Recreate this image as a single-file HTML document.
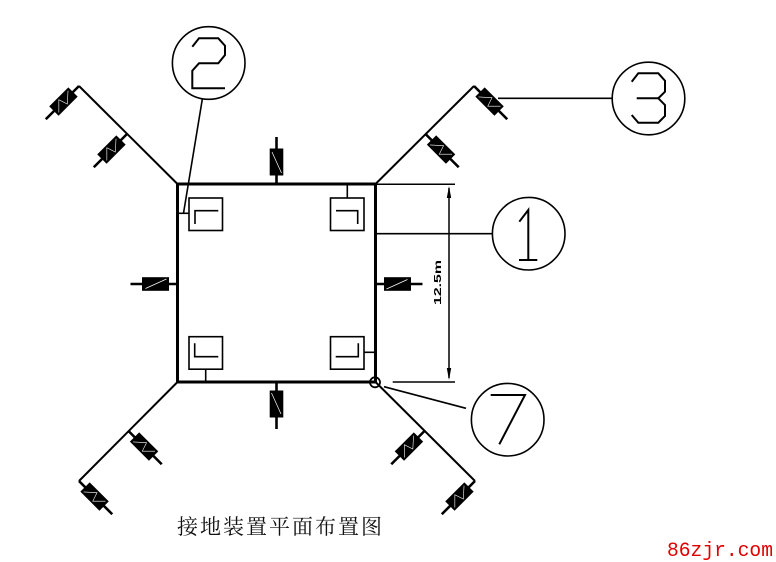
<!DOCTYPE html>
<html>
<head>
<meta charset="utf-8">
<style>
html,body{margin:0;padding:0;background:#fff;}
svg{display:block;}
</style>
</head>
<body>
<svg width="776" height="562" viewBox="0 0 776 562" xmlns="http://www.w3.org/2000/svg">
<defs>
  <g id="rod">
    <line x1="0" y1="0" x2="47" y2="0" stroke="#000" stroke-width="2.6"/>
    <rect x="8.5" y="-6.6" width="27" height="13.2" fill="#000"/>
    <polyline points="11,4.5 21,-4.5 24,4.5 33,-4.5" fill="none" stroke="#fff" stroke-width="0.6"/>
  </g>
  <g id="rodv">
    <line x1="0" y1="0" x2="47" y2="0" stroke="#000" stroke-width="2.6"/>
    <rect x="8.5" y="-6.8" width="27" height="13.6" fill="#000"/>
    <line x1="11" y1="5" x2="32" y2="-4.5" stroke="#fff" stroke-width="0.7"/>
  </g>
</defs>

<!-- main square -->
<rect x="177.5" y="184" width="198" height="198" fill="none" stroke="#000" stroke-width="3"/>

<!-- diagonals -->
<g stroke="#000" stroke-width="2" fill="none">
  <line x1="177.5" y1="184" x2="79" y2="86"/>
  <line x1="375.5" y1="184" x2="474" y2="86"/>
  <line x1="375.5" y1="382" x2="475" y2="481"/>
  <line x1="177.5" y1="382" x2="79" y2="481"/>
</g>

<!-- rods -->
<use href="#rod" transform="translate(79,86) rotate(135)"/>
<use href="#rod" transform="translate(127,134) rotate(135)"/>
<use href="#rodv" transform="translate(276.5,184) rotate(-90)"/>
<use href="#rodv" transform="translate(177.5,284) rotate(180)"/>
<use href="#rodv" transform="translate(375.5,284) rotate(0)"/>
<use href="#rodv" transform="translate(276.5,382) rotate(90)"/>
<use href="#rod" transform="translate(474,86) rotate(45)"/>
<use href="#rod" transform="translate(425.5,134) rotate(45)"/>
<use href="#rod" transform="translate(424.5,431) rotate(135)"/>
<use href="#rod" transform="translate(475,481) rotate(135)"/>
<use href="#rod" transform="translate(128.5,431) rotate(45)"/>
<use href="#rod" transform="translate(79,481) rotate(45)"/>

<!-- small boxes -->
<g stroke="#000" stroke-width="1.6" fill="none">
  <rect x="189" y="198" width="33.5" height="32.5"/>
  <polyline points="195,224 195,210.7 218.3,210.7"/>
  <line x1="177.5" y1="213.3" x2="189" y2="213.3"/>

  <rect x="330.5" y="198" width="33.5" height="32.5"/>
  <polyline points="336,210.7 357.7,210.7 357.7,224"/>
  <line x1="347.3" y1="184" x2="347.3" y2="198"/>

  <rect x="189" y="336.7" width="33.5" height="32.5"/>
  <polyline points="194.7,343.3 194.7,356.7 218.3,356.7"/>
  <line x1="205.7" y1="369.2" x2="205.7" y2="382"/>

  <rect x="330.5" y="336.7" width="33.5" height="32.5"/>
  <polyline points="335.7,356.7 358.3,356.7 358.3,343.3"/>
  <line x1="364" y1="352.3" x2="375.5" y2="352.3"/>
</g>

<!-- dimension -->
<g stroke="#000" stroke-width="1.5" fill="none">
  <line x1="375.5" y1="184.3" x2="455" y2="184.3"/>
  <line x1="392.7" y1="382" x2="455" y2="382"/>
  <line x1="449" y1="188" x2="449" y2="378"/>
</g>
<polygon points="449,186 446.8,198 451.2,198" fill="#000"/>
<polygon points="449,380 446.8,368 451.2,368" fill="#000"/>
<text transform="translate(441,282.5) rotate(-90)" text-anchor="middle" font-family="Liberation Sans, sans-serif" font-size="10" font-weight="bold" textLength="45" lengthAdjust="spacingAndGlyphs">12.5m</text>

<!-- leaders and callout circles -->
<g stroke="#000" stroke-width="1.6" fill="none">
  <!-- 2 -->
  <circle cx="208.7" cy="63" r="36.3"/>
  <line x1="202.3" y1="99.3" x2="183.5" y2="213.3"/>
  <polyline stroke-width="2" points="192.3,46.7 199,38.3 218.3,38.3 225,45.7 225,55 218.3,63.3 199,63.3 192.3,70.7 192.3,88.3 225,88.3"/>
  <!-- 3 -->
  <circle cx="648.5" cy="98.5" r="36.3"/>
  <line x1="498" y1="98.3" x2="612" y2="98.3"/>
  <polyline stroke-width="2" points="631.7,81.7 638.3,73.3 658.3,73.3 665,80.7 665,91.7 658.3,98.3 665,105 665,116 658.3,122.7 638.3,122.7 631.7,115"/>
  <line stroke-width="2" x1="636.7" y1="98.3" x2="658.3" y2="98.3"/>
  <!-- 1 -->
  <circle cx="528.7" cy="233.7" r="36.3"/>
  <line x1="375.5" y1="233.7" x2="492.4" y2="233.7"/>
  <polyline stroke-width="2" points="519.3,221.7 528.3,210 528.3,260"/>
  <line stroke-width="2" x1="519" y1="260" x2="537.3" y2="260"/>
  <!-- 7 -->
  <circle cx="507.7" cy="419.7" r="36.3"/>
  <circle cx="375" cy="382.3" r="5" stroke-width="1.8"/>
  <line x1="384" y1="386.7" x2="466" y2="408.3"/>
  <polyline stroke-width="2" points="490.7,395 525,395 499.3,444.3"/>
</g>

<!-- title -->
<text x="177" y="534" font-family="Liberation Serif, 'Noto Serif CJK SC', serif" font-size="21" letter-spacing="2" fill="#111">接地装置平面布置图</text>

<!-- watermark -->
<text x="667" y="556" font-family="Liberation Mono, monospace" font-size="20" fill="#e00000" textLength="106" lengthAdjust="spacingAndGlyphs">86zjr.com</text>
</svg>
</body>
</html>
